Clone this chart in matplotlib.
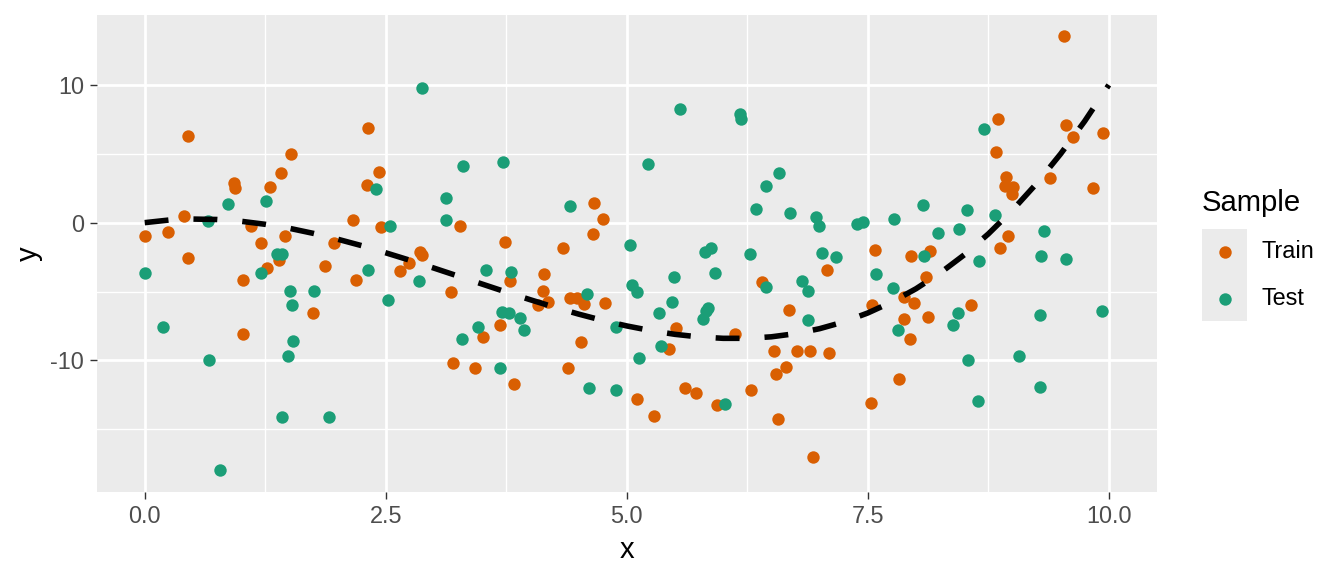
import numpy as np
import matplotlib
matplotlib.use("Agg")
import matplotlib.pyplot as plt
from matplotlib.patches import Rectangle

plt.rcParams['font.family'] = ['Liberation Sans', 'DejaVu Sans']

# training sample (orange)
train_x = [0.00, 0.24, 0.41, 0.45, 0.45, 0.93, 0.94, 1.02, 1.02, 1.10, 1.21, 1.27, 1.30,
           1.39, 1.41, 1.46, 1.52, 1.75, 1.87, 1.96, 2.16, 2.19, 2.31, 2.32, 2.43, 2.45,
           2.65, 2.74, 2.86, 2.88, 3.18, 3.20, 3.27, 3.43, 3.51, 3.68, 3.74, 3.79, 3.83,
           4.08, 4.13, 4.14, 4.18, 4.34, 4.39, 4.41, 4.48, 4.53, 4.56, 4.65, 4.66, 4.75,
           4.77, 5.11, 5.28, 5.44, 5.51, 5.60, 5.72, 5.94, 6.12, 6.29, 6.40, 6.53, 6.55,
           6.57, 6.65, 6.68, 6.77, 6.90, 6.93, 7.08, 7.10, 7.53, 7.54, 7.58, 7.82, 7.88,
           7.88, 7.94, 7.95, 7.98, 8.10, 8.12, 8.15, 8.57, 8.83, 8.85, 8.87, 8.92, 8.93,
           8.95, 9.00, 9.01, 9.39, 9.54, 9.56, 9.63, 9.84, 9.94]
train_y = [-1.0, -0.7, 0.47, 6.3, -2.58, 2.9, 2.5, -4.2, -8.1, -0.26, -1.5, -3.27, 2.6,
           -2.68, 3.63, -0.94, 4.97, -6.53, -3.12, -1.5, 0.22, -4.19, 2.76, 6.88, 3.7, -0.3,
           -3.48, -2.95, -2.1, -2.37, -5.03, -10.17, -0.27, -10.55, -8.32, -7.41, -1.38, -4.21, -11.69,
           -5.95, -4.96, -3.73, -5.78, -1.84, -10.53, -5.47, -5.44, -8.69, -5.9, -0.82, 1.43, 0.27,
           -5.81, -12.83, -14.04, -9.17, -7.62, -11.98, -12.34, -13.24, -8.08, -12.17, -4.3, -9.29, -10.99,
           -14.28, -10.46, -6.32, -9.34, -9.32, -17.04, -3.44, -9.46, -13.12, -5.95, -1.95, -11.33, -5.4,
           -6.97, -8.42, -2.4, -5.83, -3.94, -6.82, -2.05, -5.98, 5.16, 7.55, -1.81, 2.69, 3.34,
           -0.97, 2.08, 2.61, 3.22, 13.56, 7.1, 6.2, 2.54, 6.51]

# test sample (green)
test_x = [0.00, 0.19, 0.66, 0.67, 0.78, 0.86, 1.21, 1.26, 1.37, 1.42, 1.42, 1.49, 1.51,
          1.53, 1.54, 1.76, 1.91, 2.32, 2.40, 2.52, 2.54, 2.84, 2.88, 3.12, 3.13, 3.29,
          3.30, 3.46, 3.54, 3.68, 3.71, 3.72, 3.78, 3.80, 3.89, 3.93, 4.41, 4.59, 4.61,
          4.89, 4.89, 5.03, 5.05, 5.11, 5.13, 5.22, 5.33, 5.36, 5.47, 5.49, 5.55, 5.79,
          5.81, 5.82, 5.84, 5.87, 5.92, 6.02, 6.17, 6.19, 6.28, 6.34, 6.44, 6.44, 6.58,
          6.69, 6.82, 6.88, 6.88, 6.96, 6.99, 7.03, 7.17, 7.39, 7.45, 7.59, 7.76, 7.77,
          7.81, 8.07, 8.08, 8.23, 8.38, 8.44, 8.45, 8.53, 8.54, 8.64, 8.65, 8.71, 8.82,
          9.07, 9.29, 9.29, 9.30, 9.33, 9.56, 9.93]
test_y = [-3.65, -7.55, 0.12, -10.0, -17.96, 1.36, -3.63, 1.6, -2.3, -2.3, -14.1, -9.68, -4.94,
          -5.95, -8.61, -4.94, -14.1, -3.43, 2.47, -5.61, -0.24, -4.26, 9.8, 1.8, 0.2, -8.42,
          4.1, -7.57, -3.43, -10.55, -6.5, 4.43, -6.58, -3.6, -6.92, -7.81, 1.19, -5.18, -12.0,
          -7.6, -12.17, -1.64, -4.5, -5.03, -9.8, 4.26, -6.53, -8.93, -5.78, -3.94, 8.23, -7.02,
          -2.1, -6.39, -6.17, -1.84, -3.63, -13.19, 7.87, 7.51, -2.25, 0.99, 2.67, -4.65, 3.61,
          0.7, -4.26, -4.94, -7.04, 0.39, -0.22, -2.2, -2.47, -0.12, 0.07, -3.73, -4.72, 0.29,
          -7.82, 1.29, -2.43, -0.73, -7.43, -6.53, -0.44, 0.94, -9.97, -12.95, -2.78, 6.83, 0.56,
          -9.66, -6.68, -11.93, -2.45, -0.58, -2.65, -6.39]

# dashed reference curve
curve_x = [0.0, 0.25, 0.5, 0.75, 1.0, 1.25, 1.5, 1.75, 2.0, 2.25, 2.5, 2.75, 3.0, 3.25,
           3.5, 3.75, 4.0, 4.25, 4.5, 4.75, 5.0, 5.25, 5.5, 5.75, 6.0, 6.25, 6.5, 6.75,
           7.0, 7.25, 7.5, 7.75, 8.0, 8.25, 8.5, 8.75, 9.0, 9.25, 9.5, 9.75, 10.0]
curve_y = [0.0, 0.19, 0.26, 0.23, 0.10, -0.12, -0.41, -0.78, -1.20, -1.67, -2.19, -2.73,
           -3.30, -3.88, -4.46, -5.04, -5.60, -6.14, -6.64, -7.10, -7.50, -7.84, -8.11,
           -8.30, -8.40, -8.40, -8.29, -8.06, -7.70, -7.21, -6.56, -5.76, -4.80, -3.66,
           -2.34, -0.82, 0.90, 2.83, 4.99, 7.37, 10.0]

orange = '#D95F02'
green = '#1B9E77'
W, H = 1344, 576

fig = plt.figure(figsize=(W / 100, H / 100), dpi=100)
ax = fig.add_axes([97 / W, 1 - 492 / H, 1060 / W, 477 / H])
ax.set_facecolor('#EBEBEB')

ax.scatter(train_x, train_y, s=80, color=orange, linewidths=0, zorder=3, label='Train')
ax.scatter(test_x, test_y, s=80, color=green, linewidths=0, zorder=3, label='Test')
ax.plot(curve_x, curve_y, color='black', lw=4.0, linestyle=(0, (4.3, 4.5)),
        solid_capstyle='butt', zorder=4)

ax.set_xlim(-0.495, 10.5)
ax.set_ylim(-19.56, 15.08)
ax.set_xticks([0, 2.5, 5, 7.5, 10])
ax.set_xticklabels(['0.0', '2.5', '5.0', '7.5', '10.0'])
ax.set_yticks([-10, 0, 10])
ax.set_yticklabels(['-10', '0', '10'])
ax.set_xticks([1.25, 3.75, 6.25, 8.75], minor=True)
ax.set_yticks([-15, -5, 5], minor=True)
ax.grid(which='major', color='white', lw=2.0)
ax.grid(which='minor', color='white', lw=1.0)
ax.set_axisbelow(True)
for s in ax.spines.values():
    s.set_visible(False)
ax.tick_params(which='major', length=5.3, width=1.0, color='#333333',
               labelsize=16.9, labelcolor='#4D4D4D', pad=4.2)
ax.tick_params(which='minor', length=0)
ax.set_xlabel('x', fontsize=21.1, labelpad=5.3)
ax.set_ylabel('y', fontsize=21.1, labelpad=5.3)

fs = 16.9
fs_px = fs * 100 / 72
leg = ax.legend(title='Sample', loc='upper left', bbox_to_anchor=(1202 / W, 1 - 189 / H),
                bbox_transform=fig.transFigure, frameon=False, fontsize=fs,
                title_fontsize=21.1, handlelength=45 / fs_px, handletextpad=15 / fs_px,
                labelspacing=1.0, borderpad=0, borderaxespad=0, scatterpoints=1)
leg._legend_box.align = 'left'

# one grey block behind the legend keys
fig.canvas.draw()
r = fig.canvas.get_renderer()
lx0 = leg.get_window_extent(r).x0
cys = []
for t in leg.get_texts():
    tb = t.get_window_extent(r)
    cys.append((tb.y0 + tb.y1) / 2)
y_lo = min(cys) - 23
y_hi = max(cys) + 23
fig.add_artist(Rectangle((lx0 / W, y_lo / H), 45 / W, (y_hi - y_lo) / H,
                         transform=fig.transFigure, facecolor='#EBEBEB',
                         edgecolor='none', zorder=0))

fig.savefig('out.png', dpi=100)
